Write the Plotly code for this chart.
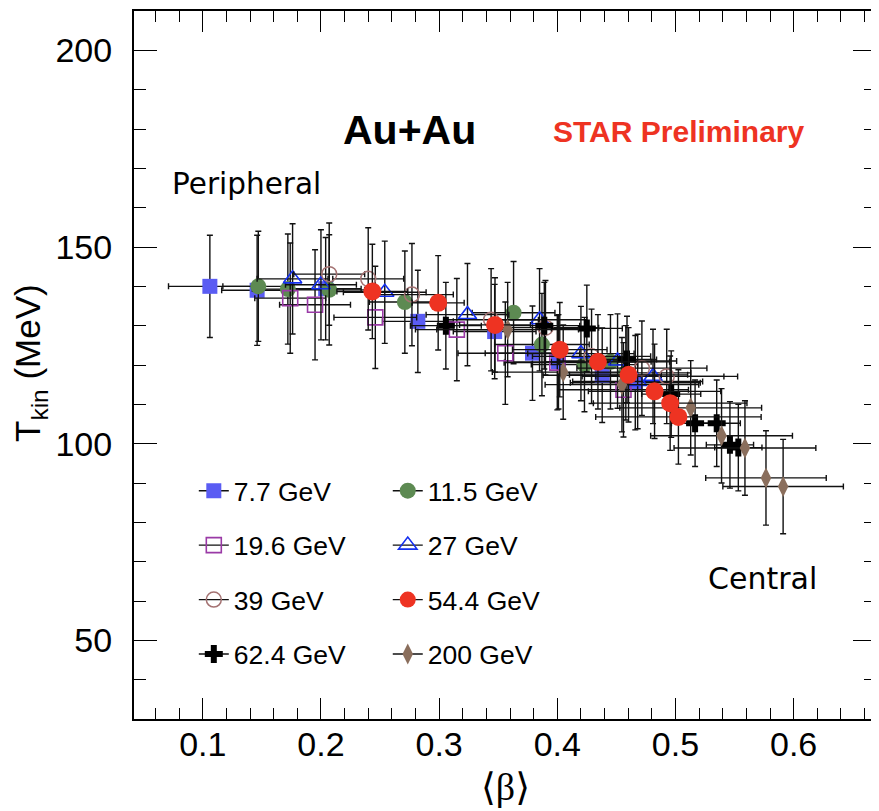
import plotly.graph_objects as go

# ---------------- data ----------------
labels = ["7.7 GeV", "11.5 GeV", "19.6 GeV", "27 GeV", "39 GeV", "54.4 GeV", "62.4 GeV", "200 GeV"]

x_77 = [0.106, 0.146, 0.204, 0.282, 0.347, 0.379, 0.401, 0.438, 0.466]
y_77 = [140.0, 139.0, 139.4, 131.1, 128.5, 123.0, 120.8, 117.4, 115.5]
ex_77 = [0.035, 0.030, 0.030, 0.030, 0.035, 0.040, 0.045, 0.050, 0.055]
ey_77 = [13, 14, 13, 13, 12, 12, 12, 12, 12]

x_115 = [0.147, 0.172, 0.207, 0.271, 0.363, 0.387, 0.423, 0.445, 0.458]
y_115 = [140.0, 139.3, 139.1, 136.0, 133.3, 125.2, 120.1, 120.8, 118.0]
ex_115 = [0.030, 0.030, 0.030, 0.030, 0.035, 0.040, 0.045, 0.050, 0.055]
ey_115 = [14, 14, 14, 13, 13, 13, 12, 12, 12]

x_196 = [0.174, 0.195, 0.246, 0.315, 0.356, 0.400, 0.456]
y_196 = [137.0, 135.3, 132.1, 129.0, 123.0, 120.6, 113.7]
ex_196 = [0.030, 0.030, 0.035, 0.035, 0.040, 0.045, 0.055]
ey_196 = [14, 14, 13, 13, 13, 12, 12]

x_27 = [0.176, 0.200, 0.254, 0.324, 0.385, 0.420, 0.451, 0.468, 0.481]
y_27 = [141.9, 140.4, 138.5, 132.8, 131.5, 122.9, 121.0, 115.8, 117.1]
ex_27 = [0.030, 0.030, 0.035, 0.035, 0.040, 0.045, 0.050, 0.055, 0.060]
ey_27 = [14, 14, 13, 13, 13, 12, 12, 12, 12]

x_39 = [0.207, 0.240, 0.277, 0.344, 0.390, 0.429, 0.4716, 0.4926]
y_39 = [143.1, 141.9, 137.9, 131.5, 129.5, 122.2, 119.2, 117.1]
ex_39 = [0.030, 0.030, 0.035, 0.040, 0.045, 0.050, 0.055, 0.060]
ey_39 = [13, 13, 13, 13, 12, 12, 12, 12]

x_544 = [0.2435, 0.2992, 0.3473, 0.4021, 0.4344, 0.4603, 0.4823, 0.4955, 0.5025]
y_544 = [138.7, 135.8, 130.2, 123.9, 120.8, 117.5, 113.3, 110.3, 106.8]
ex_544 = [0.030, 0.022, 0.030, 0.040, 0.045, 0.050, 0.056, 0.065, 0.070]
ey_544 = [12, 12, 12, 12, 12, 12, 12, 12, 12]

x_624 = [0.3057, 0.389, 0.425, 0.459, 0.4964, 0.5166, 0.5349, 0.5461, 0.5532]
y_624 = [130.0, 130.0, 129.3, 121.4, 112.6, 105.2, 105.2, 99.7, 99.0]
ex_624 = [0.030, 0.030, 0.030, 0.025, 0.025, 0.020, 0.020, 0.020, 0.020]
ey_624 = [11, 11, 11, 11, 11, 11, 11, 11, 11]

x_200 = [0.358, 0.405, 0.4547, 0.5129, 0.539, 0.5588, 0.5766, 0.5911]
y_200 = [129.0, 118.2, 115.0, 109.1, 102.0, 98.9, 91.3, 89.1]
ex_200 = [0.060, 0.060, 0.065, 0.060, 0.060, 0.060, 0.051, 0.051]
ey_200 = [12, 12, 12, 12, 12, 12, 12, 12]

x_ticks = [0.1, 0.2, 0.3, 0.4, 0.5, 0.6]
y_ticks = [50, 100, 150, 200]

# ---------------- styles ----------------
C77 = "#5a5cf3"
C115 = "#5d8a52"
C196 = "#9a3aa6"
C27 = "#1530f0"
C39 = "#a47272"
C544 = "#ee3322"
C624 = "#000000"
C200 = "#8a6e5c"
EBC = "#111111"

styles = {
    "7.7 GeV": dict(symbol="square", size=15, color=C77, line=dict(width=0)),
    "11.5 GeV": dict(symbol="circle", size=16, color=C115, line=dict(width=0)),
    "19.6 GeV": dict(symbol="square-open", size=15, color=C196, line=dict(width=1.6, color=C196)),
    "27 GeV": dict(symbol="triangle-up-open", size=16, color=C27, line=dict(width=1.6, color=C27)),
    "39 GeV": dict(symbol="circle-open", size=15, color=C39, line=dict(width=1.5, color=C39)),
    "54.4 GeV": dict(symbol="circle", size=18, color=C544, line=dict(width=0)),
    "62.4 GeV": dict(symbol="cross", size=15, color=C624, line=dict(width=0)),
    "200 GeV": dict(symbol="diamond-tall", size=15, color=C200, line=dict(width=0)),
}

series = {
    "7.7 GeV": (x_77, y_77, ex_77, ey_77),
    "11.5 GeV": (x_115, y_115, ex_115, ey_115),
    "19.6 GeV": (x_196, y_196, ex_196, ey_196),
    "27 GeV": (x_27, y_27, ex_27, ey_27),
    "39 GeV": (x_39, y_39, ex_39, ey_39),
    "62.4 GeV": (x_624, y_624, ex_624, ey_624),
    "200 GeV": (x_200, y_200, ex_200, ey_200),
    "54.4 GeV": (x_544, y_544, ex_544, ey_544),
}

fig = go.Figure()

for name, (xs, ys, exs, eys) in series.items():
    fig.add_trace(go.Scatter(
        x=xs, y=ys, mode="markers", name=name, showlegend=False,
        marker=styles[name],
        error_x=dict(type="data", array=exs, color=EBC, thickness=1.4, width=3),
        error_y=dict(type="data", array=eys, color=EBC, thickness=1.4, width=3),
        hoverinfo="x+y+name",
    ))

# legend-only entries (two columns via two legends)
left_col = ["7.7 GeV", "19.6 GeV", "39 GeV", "62.4 GeV"]
right_col = ["11.5 GeV", "27 GeV", "54.4 GeV", "200 GeV"]
for col, lg in ((left_col, "legend"), (right_col, "legend2")):
    for name in col:
        fig.add_trace(go.Scatter(
            x=[None], y=[None], mode="lines+markers", name=name,
            marker=styles[name], line=dict(color=EBC, width=1.4),
            legend=lg, legendgroup=name, showlegend=True,
        ))

FONT = "Liberation Sans, Arial, Helvetica, sans-serif"
TFONT = "DejaVu Sans, Open Sans, sans-serif"

legend_common = dict(
    yanchor="top", xanchor="left", y=0.356,
    bgcolor="rgba(0,0,0,0)", borderwidth=0,
    font=dict(family=FONT, size=26.5, color="black"),
    tracegroupgap=17, itemwidth=30,
)

# The page body has a default 8px margin, so the figure is sized/offset to compensate.
fig.update_layout(
    width=871, height=803,
    margin=dict(l=126, r=1, t=3, b=92),
    paper_bgcolor="white", plot_bgcolor="white",
    font=dict(family=FONT, color="black"),
    legend=dict(x=0.0806, **legend_common),
    legend2=dict(x=0.342, **legend_common),
    xaxis=dict(
        range=[0.0418, 0.6697], tickvals=x_ticks, ticktext=[str(v) for v in x_ticks],
        ticks="inside", ticklen=21, tickwidth=1.3, tickcolor="black",
        minor=dict(ticks="inside", ticklen=11, dtick=0.02, tick0=0, tickwidth=1.3, tickcolor="black"),
        showline=True, linewidth=2, linecolor="black", mirror="ticks",
        showgrid=False, zeroline=False,
        tickfont=dict(family=FONT, size=34, color="black"),
        ticklabelstandoff=-6,
    ),
    yaxis=dict(
        range=[30, 210], tickvals=y_ticks, ticktext=[str(v) for v in y_ticks],
        ticks="inside", ticklen=23, tickwidth=1.3, tickcolor="black",
        minor=dict(ticks="inside", ticklen=12, dtick=10, tick0=0, tickwidth=1.3, tickcolor="black"),
        showline=True, linewidth=2, linecolor="black", mirror="ticks",
        showgrid=False, zeroline=False,
        tickfont=dict(family=FONT, size=34, color="black"),
        ticklabelstandoff=13,
    ),
    annotations=[
        dict(text="<b>Au+Au</b>", x=0.371, y=0.832, xref="paper", yref="paper",
             xanchor="center", yanchor="middle",
             showarrow=False, font=dict(family=FONT, size=41, color="black")),
        dict(text="<b>STAR Preliminary</b>", x=0.735, y=0.8305, xref="paper", yref="paper",
             xanchor="center", yanchor="middle",
             showarrow=False, font=dict(family=FONT, size=30, color=C544)),
        dict(text="Peripheral", x=0.151, y=0.7556, xref="paper", yref="paper",
             xanchor="center", yanchor="middle",
             showarrow=False, font=dict(family=TFONT, size=29.5, color="black")),
        dict(text="Central", x=0.847, y=0.198, xref="paper", yref="paper",
             xanchor="center", yanchor="middle",
             showarrow=False, font=dict(family=TFONT, size=30, color="black")),
        dict(text="T<sub>kin</sub> (MeV)", x=-0.14, y=0.503, xref="paper", yref="paper",
             showarrow=False, textangle=-90, xanchor="center", yanchor="middle",
             font=dict(family=FONT, size=35, color="black")),
        dict(text="⟨β⟩", x=0.5, y=-0.096, xref="paper", yref="paper",
             showarrow=False, xanchor="center", yanchor="middle",
             font=dict(family="Liberation Serif, DejaVu Serif, serif", size=38, color="black")),
    ],
)

fig.write_html("out.html")
